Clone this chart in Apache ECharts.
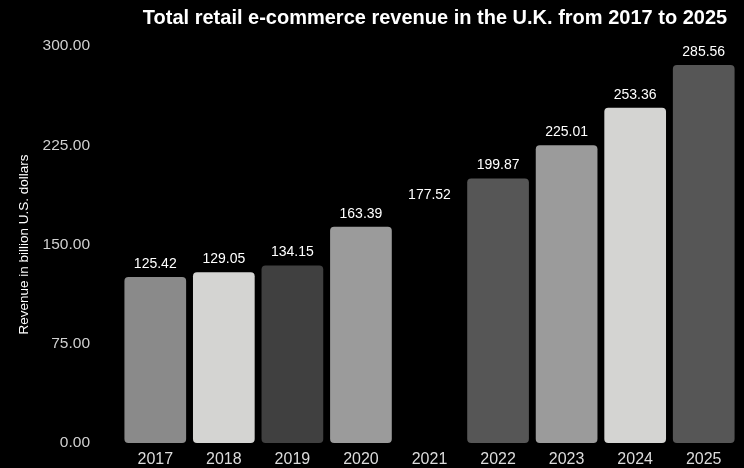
<!DOCTYPE html>
<html>
<head>
<meta charset="utf-8">
<script src="https://cdn.jsdelivr.net/npm/echarts@6/dist/echarts.min.js"></script>
<style>
  html, body { margin: 0; padding: 0; background: #000; }
  #chart { width: 744px; height: 468px; }
</style>
</head>
<body>
<div id="chart"></div>
<script>
// UK retail e-commerce revenue, billion U.S. dollars
var years = ['2017', '2018', '2019', '2020', '2021', '2022', '2023', '2024', '2025'];
var revenue = [125.42, 129.05, 134.15, 163.39, 177.52, 199.87, 225.01, 253.36, 285.56];
var barColors = ['#8a8a8a', '#d4d4d2', '#404040', '#9b9b9b', '#000000', '#565656', '#9b9b9b', '#d4d4d2', '#565656'];
var yTicks = [0, 75, 150, 225, 300];

var chart = echarts.init(document.getElementById('chart'), null, { renderer: 'canvas' });
var font = 'Helvetica, "Liberation Sans", Arial, sans-serif';

chart.setOption({
  backgroundColor: '#000',
  animation: false,
  title: {
    text: 'Total retail e-commerce revenue in the U.K. from 2017 to 2025',
    left: 430,
    textAlign: 'center',
    top: 3,
    textStyle: { color: '#fff', fontSize: 20, fontWeight: 'bold', fontFamily: font }
  },
  grid: { left: 121, right: 6, top: 46, bottom: 25 },
  xAxis: {
    type: 'category',
    data: years,
    axisLine: { show: false },
    axisTick: { show: false },
    axisLabel: { color: '#dcdcdc', fontSize: 16, fontFamily: font, margin: 9 }
  },
  yAxis: {
    type: 'value',
    min: yTicks[0],
    max: yTicks[yTicks.length - 1],
    interval: yTicks[1] - yTicks[0],
    name: 'Revenue in billion U.S. dollars',
    nameLocation: 'middle',
    nameGap: 89,
    nameTextStyle: { color: '#fff', fontSize: 13.5, fontFamily: font },
    splitLine: { show: false },
    axisLine: { show: false },
    axisTick: { show: false },
    axisLabel: {
      color: '#d0d0d0', fontSize: 15.5, fontFamily: font, margin: 31,
      formatter: function (v) { return v.toFixed(2); }
    }
  },
  series: [{
    type: 'bar',
    barCategoryGap: '10%',
    data: revenue.map(function (v, i) {
      return { value: v, itemStyle: { color: barColors[i] } };
    }),
    itemStyle: { borderRadius: 4 },
    label: {
      show: true,
      position: 'top',
      distance: 6,
      color: '#fff',
      fontSize: 14,
      fontFamily: font,
      formatter: function (p) { return p.value.toFixed(2); }
    }
  }]
});
</script>
</body>
</html>
